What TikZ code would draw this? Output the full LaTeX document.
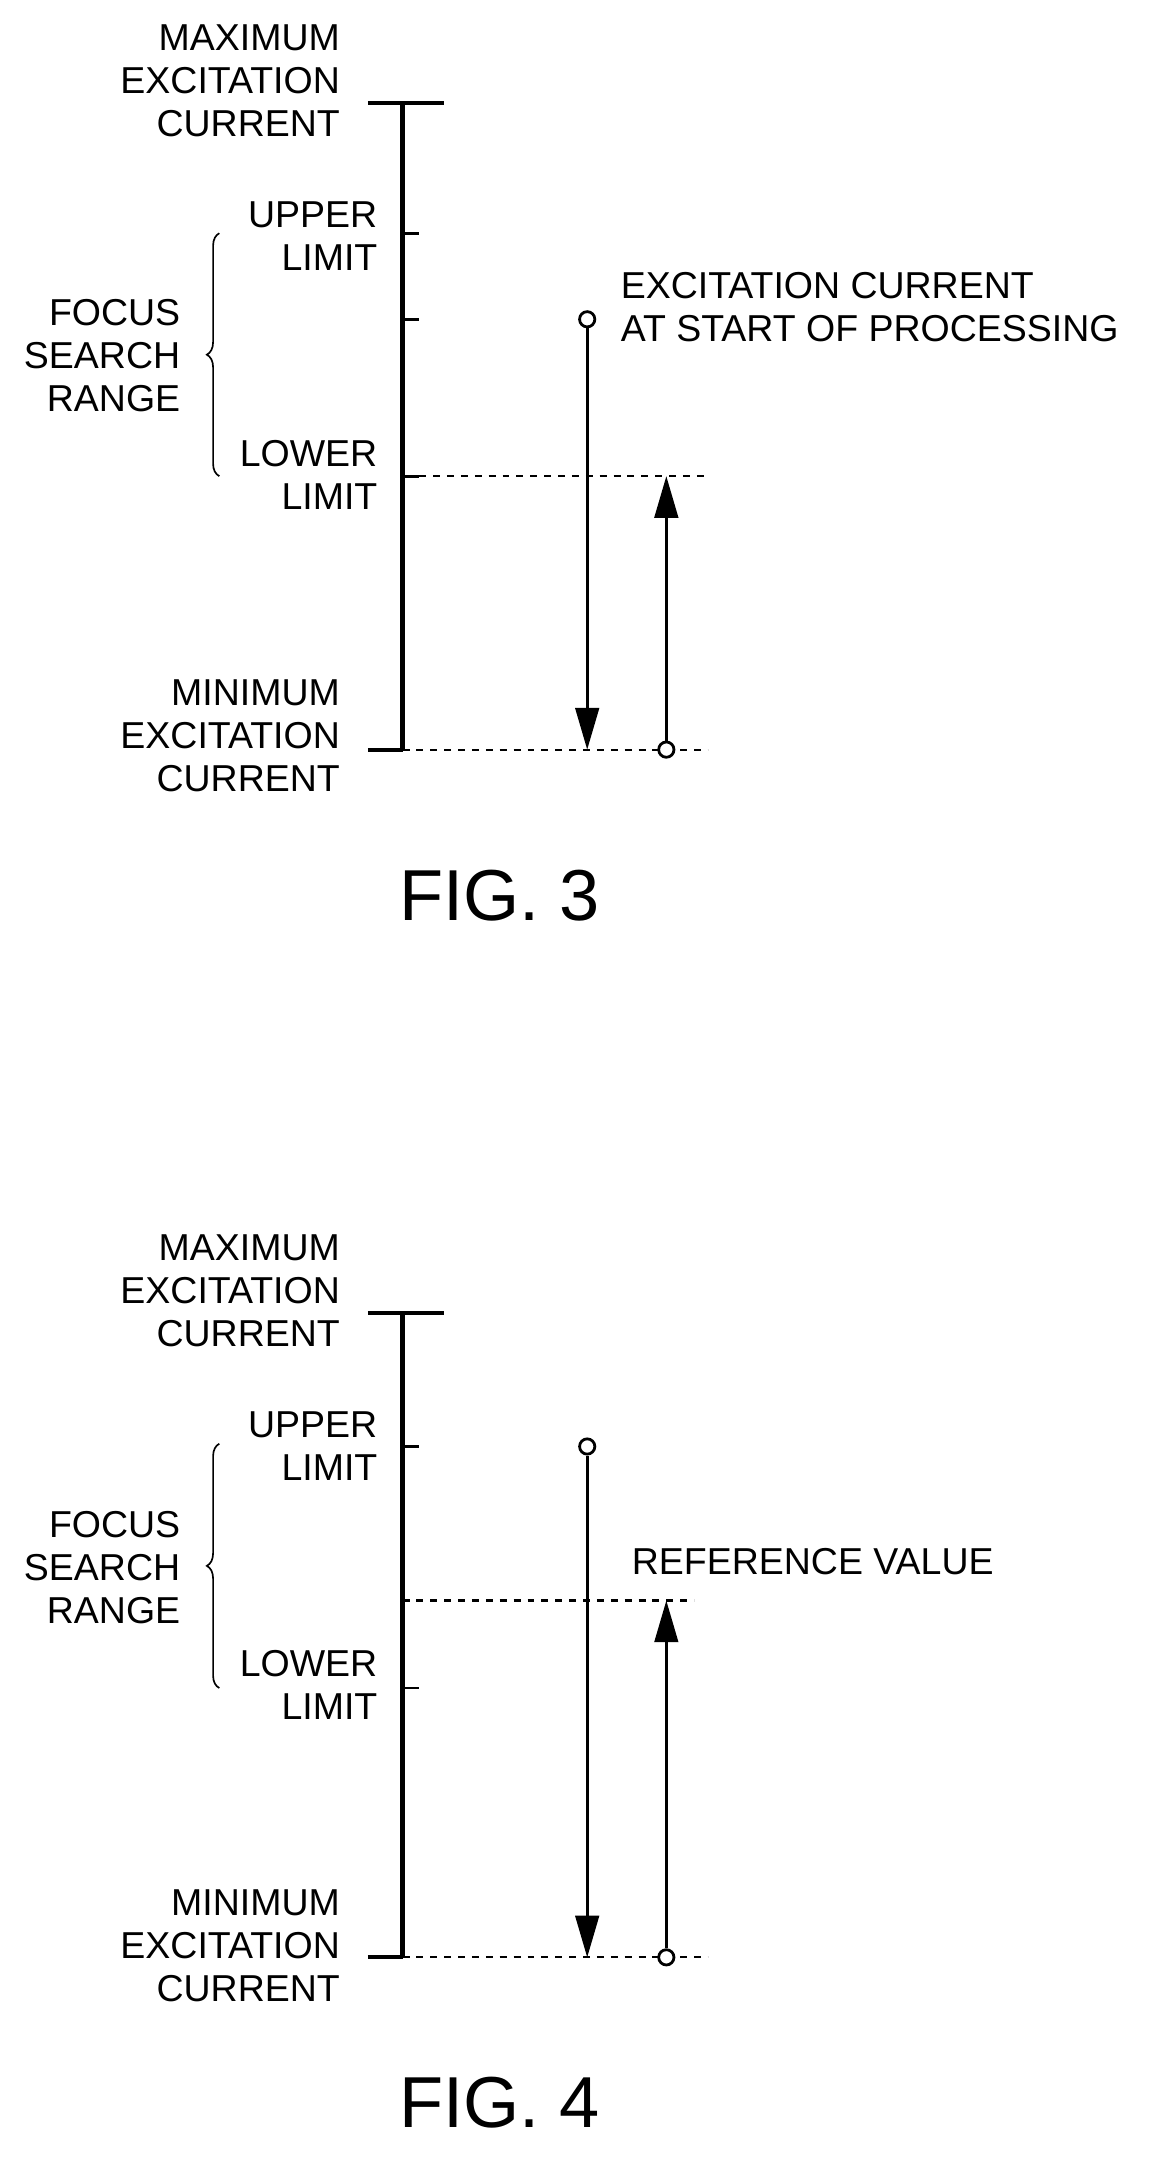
\documentclass[tikz,border=0pt]{standalone}
\usepackage{fontspec}
\setmainfont{Liberation Sans}
\usetikzlibrary{arrows.meta,decorations.pathreplacing}

\tikzset{
  lbl/.style={font=\fontsize{27}{31}\selectfont, align=right, inner sep=0pt},
  axis/.style={line width=3pt},
  tick/.style={line width=2pt},
  guide/.style={line width=1.6pt, dash pattern=on 5pt off 5pt},
  move/.style={line width=2pt, -{Triangle[length=30pt,width=17pt]}},
  dot/.style={circle, draw, fill=white, line width=2pt, minimum size=11pt, inner sep=0pt},
  fig/.style={font=\fontsize{52}{56}\selectfont}
}

\begin{document}
\begin{tikzpicture}[x=1pt,y=-1pt]
  \useasboundingbox (0,0) rectangle (830,1556);

  % ---- FIG. 3 ----
  \coordinate (top3) at (290,74);
  \coordinate (bot3) at (290,540);
  \draw[axis] (top3) -- (bot3);
  \draw[axis] (265,74) -- (320,74);
  \draw[axis] (265,540) -- (290,540);
  \draw[tick] (290,168) -- (302,168);
  \draw[tick] (290,230) -- (302,230);
  \draw[tick] (290,343) -- (302,343);

  % limits
  \coordinate (lowR3) at (510,343);
  \coordinate (minR3) at (510,540);
  \draw[guide] (302,343) -- (lowR3);
  \draw[guide] (290,540) -- (minR3);

  % labels
  \node[lbl, anchor=east] (max3) at (245,58) {MAXIMUM\\EXCITATION\\CURRENT};
  \node[lbl, anchor=east] (up3) at (272,170) {UPPER\\LIMIT};
  \node[lbl, anchor=east] (low3) at (272,342) {LOWER\\LIMIT};
  \node[lbl, anchor=east] (min3) at (245,530) {MINIMUM\\EXCITATION\\CURRENT};
  \node[lbl, anchor=east] (rng3) at (130,256) {FOCUS\\SEARCH\\RANGE};
  \draw[line width=1.2pt, decorate, decoration={brace, amplitude=9pt}]
    (158,343) -- (158,168);
  \node[lbl, anchor=west, align=left] (start3) at (447,221) {EXCITATION CURRENT\\AT START OF PROCESSING};

  % arrows
  \node[dot] (s3) at (423,230) {};
  \coordinate (e3) at (423,540);
  \draw[move] (s3) -- (e3);
  \node[dot] (m3) at (480,540) {};
  \coordinate (l3) at (480,343);
  \draw[move] (m3) -- (l3);

  \node[fig] (cap3) at (360,645) {FIG. 3};

  % ---- FIG. 4 ----
  \coordinate (top4) at (290,946);
  \coordinate (bot4) at (290,1410);
  \draw[axis] (top4) -- (bot4);
  \draw[axis] (265,946) -- (320,946);
  \draw[axis] (265,1410) -- (290,1410);
  \draw[tick] (290,1042) -- (302,1042);
  \draw[tick] (290,1216) -- (302,1216);

  \coordinate (refR4) at (500,1153);
  \coordinate (minR4) at (510,1410);
  \draw[guide] (290,1153) -- (refR4);
  \draw[guide] (290,1410) -- (minR4);

  \node[lbl, anchor=east] (max4) at (245,930) {MAXIMUM\\EXCITATION\\CURRENT};
  \node[lbl, anchor=east] (up4) at (272,1042) {UPPER\\LIMIT};
  \node[lbl, anchor=east] (low4) at (272,1214) {LOWER\\LIMIT};
  \node[lbl, anchor=east] (min4) at (245,1402) {MINIMUM\\EXCITATION\\CURRENT};
  \node[lbl, anchor=east] (rng4) at (130,1129) {FOCUS\\SEARCH\\RANGE};
  \draw[line width=1.2pt, decorate, decoration={brace, amplitude=9pt}]
    (158,1216) -- (158,1040);
  \node[lbl, anchor=west] (ref4) at (455,1125) {REFERENCE VALUE};

  \node[dot] (s4) at (423,1042) {};
  \coordinate (e4) at (423,1410);
  \draw[move] (s4) -- (e4);
  \node[dot] (m4) at (480,1410) {};
  \coordinate (r4) at (480,1153);
  \draw[move] (m4) -- (r4);

  \node[fig] (cap4) at (360,1515) {FIG. 4};
\end{tikzpicture}
\end{document}
